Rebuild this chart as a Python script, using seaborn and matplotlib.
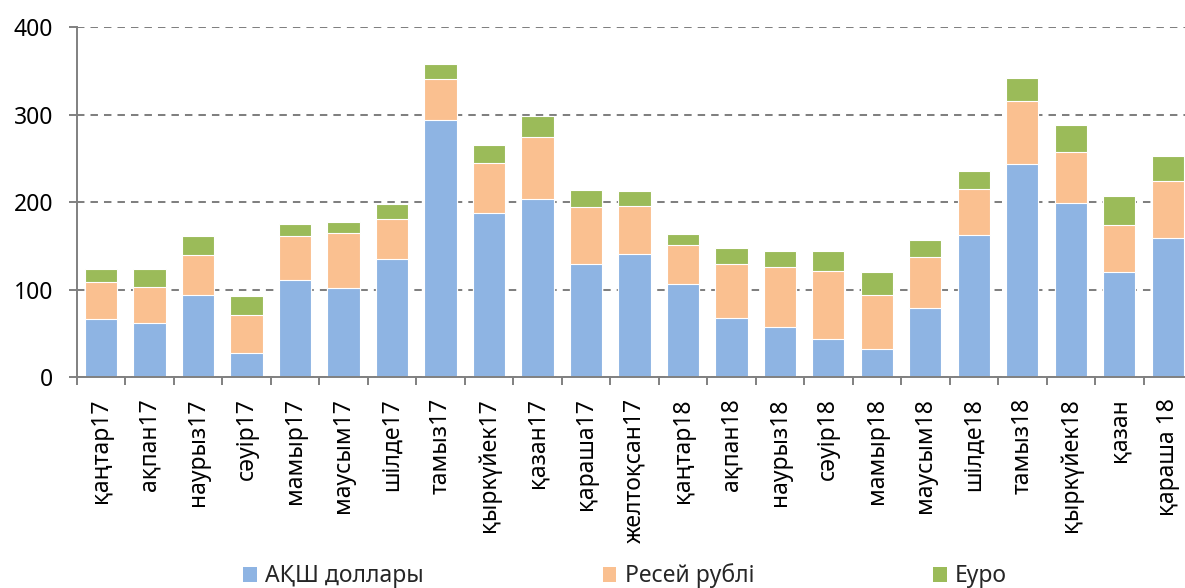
import matplotlib
matplotlib.use("Agg")
import matplotlib.pyplot as plt
from matplotlib.patches import Patch
from matplotlib.ticker import FixedLocator
import seaborn as sns
import pandas as pd
import numpy as np

categories = ["қаңтар17", "ақпан17", "наурыз17", "сәуір17", "мамыр17", "маусым17",
              "шілде17", "тамыз17", "қыркүйек17", "қазан17", "қараша17", "желтоқсан17",
              "қаңтар18", "ақпан18", "наурыз18", "сәуір18", "мамыр18", "маусым18",
              "шілде18", "тамыз18", "қыркүйек18", "қазан", "қараша 18"]
usd = [67, 62.5, 94, 28, 111, 102, 135.5, 294, 188, 204, 129, 140.5,
       107, 68, 58, 44, 32.5, 79.5, 163, 244, 199, 120, 159]
rub = [42, 41, 46, 43, 50.5, 62.5, 45, 46.5, 57, 70.5, 65.5, 55.5,
       44.5, 61, 68, 77.5, 61.5, 58, 52, 72, 59, 54, 65.5]
eur = [15, 20.5, 21, 22, 13.5, 13.5, 17.5, 17.5, 20, 24, 19, 16.5,
       12, 18.5, 18.5, 23, 26, 19.5, 21, 26, 30.5, 33, 28]
series_names = ["АҚШ доллары", "Ресей рублі", "Еуро"]
colors = ["#8EB4E3", "#FAC090", "#9BBB59"]
yticks = [0, 100, 200, 300, 400]

sns.set_theme(style="white")
plt.rcParams["font.family"] = ["Noto Sans", "DejaVu Sans"]

df = pd.DataFrame({"cat": categories, "usd": usd, "rub": rub, "eur": eur})
df["lvl1"] = df["usd"]
df["lvl2"] = df["usd"] + df["rub"]
df["lvl3"] = df["usd"] + df["rub"] + df["eur"]

fig = plt.figure(figsize=(11.85, 5.88), dpi=100)
ax = fig.add_axes([76.7 / 1185, 1 - 377.3 / 588, (1192 - 76.7) / 1185, (377.3 - 27.3) / 588])

for col, c in zip(["lvl3", "lvl2", "lvl1"], [colors[2], colors[1], colors[0]]):
    sns.barplot(data=df, x="cat", y=col, order=categories, color=c, saturation=1,
                width=0.667, edgecolor="white", linewidth=0.8, ax=ax, zorder=2)

ax.set_xlim(-0.5, len(categories) - 0.5)
ax.set_ylim(0, 400)
ax.set_yticks(yticks)
ax.set_xlabel("")
ax.set_ylabel("")

gray = "#808080"
ax.yaxis.grid(True, color=gray, linestyle=(0, (3.7, 3.0)), linewidth=1.45)
ax.xaxis.grid(False)
ax.set_axisbelow(True)
for s in ["top", "right"]:
    ax.spines[s].set_visible(False)
for s in ["left", "bottom"]:
    ax.spines[s].set_color(gray)
    ax.spines[s].set_linewidth(1.4)

ax.set_xticks(range(len(categories)))
ax.set_xticklabels(categories, rotation=90, fontsize=16.5, color="black")
ax.xaxis.set_minor_locator(FixedLocator(np.arange(-0.5, len(categories) + 0.5, 1)))
ax.tick_params(axis="x", which="major", length=0, pad=15)
ax.tick_params(axis="x", which="minor", length=6, width=1.4, color=gray, bottom=True)
ax.tick_params(axis="y", which="major", length=6, width=1.4, color=gray, left=True,
               pad=11, labelsize=16.5, labelcolor="black")
for lbl in ax.get_xticklabels():
    lbl.set_verticalalignment("top")

handles = [Patch(facecolor=c, edgecolor="none") for c in colors]
fig.legend(handles, series_names, loc="center", bbox_to_anchor=(625 / 1185, 1 - 576 / 588),
           ncol=3, frameon=False, fontsize=16.5, handlelength=0.6, handleheight=0.6,
           handletextpad=0.35, columnspacing=7.8, borderaxespad=0, borderpad=0)

fig.savefig("out.png", dpi=100)
